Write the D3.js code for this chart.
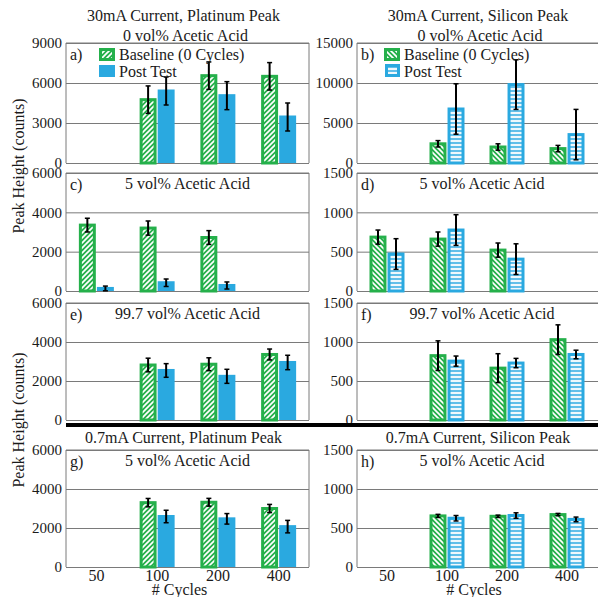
<!DOCTYPE html>
<html>
<head>
<meta charset="utf-8">
<script src="https://cdn.jsdelivr.net/npm/d3@7"></script>
<style>
  body { margin: 0; background: #fff; }
  svg, svg text { font-family: 'Liberation Serif', 'DejaVu Serif', 'Times New Roman', Times, serif !important; fill: #1a1a1a; }
</style>
</head>
<body>
<div id="chart"></div>
<script>
const cycles = ["50", "100", "200", "400"];

// a) 30mA, platinum peak, 0 vol%
const aBase = [null, 4750, 6550, 6500];
const aBaseErr = [null, 1030, 1030, 1030];
const aPost = [null, 5400, 5050, 3450];
const aPostErr = [null, 1050, 1050, 1050];
// b) 30mA, silicon peak, 0 vol%
const bBase = [null, 2400, 2000, 1800];
const bBaseErr = [null, 400, 400, 400];
const bPost = [null, 6750, 9800, 3550];
const bPostErr = [null, 3150, 3100, 3150];
// c) 30mA, platinum, 5 vol%
const cBase = [3350, 3200, 2720, null];
const cBaseErr = [350, 360, 350, null];
const cPost = [130, 420, 280, null];
const cPostErr = [120, 190, 180, null];
// d) 30mA, silicon, 5 vol%
const dBase = [685, 660, 520, null];
const dBaseErr = [90, 90, 90, null];
const dPost = [470, 775, 405, null];
const dPostErr = [195, 195, 195, null];
// e) 30mA, platinum, 99.7 vol%
const eBase = [null, 2820, 2860, 3360];
const eBaseErr = [null, 350, 330, 280];
const ePost = [null, 2540, 2240, 2950];
const ePostErr = [null, 350, 360, 370];
// f) 30mA, silicon, 99.7 vol%
const fBase = [null, 825, 665, 1030];
const fBaseErr = [null, 190, 185, 190];
const fPost = [null, 755, 730, 840];
const fPostErr = [null, 65, 60, 55];
// g) 0.7mA, platinum, 5 vol%
const gBase = [null, 3300, 3320, 3000];
const gBaseErr = [null, 215, 200, 210];
const gPost = [null, 2590, 2470, 2070];
const gPostErr = [null, 320, 270, 320];
// h) 0.7mA, silicon, 5 vol%
const hBase = [null, 655, 650, 672];
const hBaseErr = [null, 20, 15, 15];
const hPost = [null, 625, 660, 610];
const hPostErr = [null, 35, 35, 30];

const green = "#25b04b", blue = "#2aa9e0", grid = "#7a7a7a";
const serif = "'Liberation Serif', 'DejaVu Serif', 'Times New Roman', serif";

const cols = [[66, 309], [357, 597]];
const rows = [[43, 163], [173, 291], [303, 420], [450, 567]];

const panels = [
  {tag: "a)", col: 0, row: 0, max: 9000, step: 3000, base: aBase, baseErr: aBaseErr, post: aPost, postErr: aPostErr, sub: "0 vol% Acetic Acid", title: "30mA Current, Platinum Peak"},
  {tag: "b)", col: 1, row: 0, max: 15000, step: 5000, base: bBase, baseErr: bBaseErr, post: bPost, postErr: bPostErr, sub: "0 vol% Acetic Acid", title: "30mA Current, Silicon Peak"},
  {tag: "c)", col: 0, row: 1, max: 6000, step: 2000, base: cBase, baseErr: cBaseErr, post: cPost, postErr: cPostErr, sub: "5 vol% Acetic Acid"},
  {tag: "d)", col: 1, row: 1, max: 1500, step: 500, base: dBase, baseErr: dBaseErr, post: dPost, postErr: dPostErr, sub: "5 vol% Acetic Acid"},
  {tag: "e)", col: 0, row: 2, max: 6000, step: 2000, base: eBase, baseErr: eBaseErr, post: ePost, postErr: ePostErr, sub: "99.7 vol% Acetic Acid"},
  {tag: "f)", col: 1, row: 2, max: 1500, step: 500, base: fBase, baseErr: fBaseErr, post: fPost, postErr: fPostErr, sub: "99.7 vol% Acetic Acid"},
  {tag: "g)", col: 0, row: 3, max: 6000, step: 2000, base: gBase, baseErr: gBaseErr, post: gPost, postErr: gPostErr, sub: "5 vol% Acetic Acid", title: "0.7mA Current, Platinum Peak"},
  {tag: "h)", col: 1, row: 3, max: 1500, step: 500, base: hBase, baseErr: hBaseErr, post: hPost, postErr: hPostErr, sub: "5 vol% Acetic Acid", title: "0.7mA Current, Silicon Peak"}
];

let svg = d3.select("#chart")
  .append("svg")
    .attr("width", 598)
    .attr("height", 597)
    .attr("font-family", serif);

// hatch patterns
let defs = svg.append("defs");
function hatch(id, d, w, h, bg, sw) {
  let p = defs.append("pattern")
    .attr("id", id)
    .attr("patternUnits", "userSpaceOnUse")
    .attr("width", w)
    .attr("height", h);
  p.append("rect").attr("width", w).attr("height", h).attr("fill", bg);
  p.append("path").attr("d", d).attr("stroke", "#fff").attr("stroke-width", sw);
}
hatch("fwd", "M-1,1 l2,-2 M0,5 l5,-5 M4,6 l2,-2", 5, 5, green, 1.7);
hatch("back", "M-1,4 l2,2 M0,0 l5,5 M4,-1 l2,2", 5, 5, green, 1.7);
hatch("hor", "M0,1 h4", 4, 4, "#62bfe9", 1.8);

function label(sel, x, y, txt, anchor) {
  return sel.append("text")
    .attr("x", x).attr("y", y).attr("dy", "0.35em")
    .attr("text-anchor", anchor || "start")
    .attr("font-family", serif)
    .style("font-size", "16px")
    .text(txt);
}

panels.forEach(function(p) {
  let left = cols[p.col][0], right = cols[p.col][1];
  let top = rows[p.row][0], bottom = rows[p.row][1];
  let g = svg.append("g");

  let y = d3.scaleLinear().domain([0, p.max]).range([bottom, top]);
  let x = d3.scaleBand().domain(cycles).range([left, right]);
  let xs = d3.scaleBand().domain(["base", "post"]).range([-17.5, 17.5]).paddingInner(0.06);
  let bw = xs.bandwidth();

  // gridlines + tick labels
  let yAxis = d3.axisLeft(y)
    .tickValues(d3.range(0, p.max + 1, p.step))
    .tickFormat(d3.format("d"))
    .tickSize(-(right - left + (p.col ? 10 : 0)))
    .tickPadding(4);
  let ax = g.append("g")
    .attr("transform", "translate(" + left + ",0)")
    .call(yAxis)
    .attr("font-family", serif);
  ax.select(".domain").remove();
  ax.selectAll("line").attr("stroke", grid);
  ax.selectAll("text")
    .style("font-size", "15px")
    .attr("fill", "#1a1a1a");

  // frame
  g.append("path")
    .attr("d", "M" + (right + (p.col ? 10 : 0)) + "," + top + "H" + left + "V" + bottom + (p.col ? "" : "M" + right + "," + top + "V" + bottom))
    .attr("fill", "none")
    .attr("stroke", grid);

  let idx = d3.range(cycles.length);

  // baseline bars
  g.selectAll(".base")
    .data(idx.filter(i => p.base[i] != null))
    .enter().append("rect")
      .attr("x", i => x(cycles[i]) + x.bandwidth() / 2 + xs("base") + 1.5)
      .attr("y", i => y(p.base[i]))
      .attr("width", bw - 3)
      .attr("height", i => y(0) - y(p.base[i]))
      .attr("fill", p.col ? "url(#back)" : "url(#fwd)")
      .attr("stroke", green)
      .attr("stroke-width", 3);

  // post test bars
  g.selectAll(".post")
    .data(idx.filter(i => p.post[i] != null))
    .enter().append("rect")
      .attr("x", i => x(cycles[i]) + x.bandwidth() / 2 + xs("post") + (p.col ? 1.5 : 0))
      .attr("y", i => y(p.post[i]) - (p.col ? 0 : 1.5))
      .attr("width", p.col ? bw - 3 : bw)
      .attr("height", i => y(0) - y(p.post[i]) + (p.col ? 0 : 1.5))
      .attr("fill", p.col ? "url(#hor)" : blue)
      .attr("stroke", p.col ? blue : "none")
      .attr("stroke-width", 3);

  // error bars
  let errs = [];
  idx.forEach(function(i) {
    if (p.base[i] != null) errs.push({c: cycles[i], s: "base", v: p.base[i], e: p.baseErr[i]});
    if (p.post[i] != null) errs.push({c: cycles[i], s: "post", v: p.post[i], e: p.postErr[i]});
  });
  let eg = g.selectAll(".err").data(errs).enter().append("g")
    .attr("transform", d => "translate(" + (x(d.c) + x.bandwidth() / 2 + xs(d.s) + bw / 2) + ",0)");
  eg.append("line")
    .attr("y1", d => y(d.v + d.e))
    .attr("y2", d => y(Math.max(0, d.v - d.e)))
    .attr("stroke", "#000")
    .attr("stroke-width", 2);
  eg.append("line")
    .attr("x1", -2.5).attr("x2", 2.5)
    .attr("y1", d => y(d.v + d.e)).attr("y2", d => y(d.v + d.e))
    .attr("stroke", "#000").attr("stroke-width", 1.5);
  eg.append("line")
    .attr("x1", -2.5).attr("x2", 2.5)
    .attr("y1", d => y(Math.max(0, d.v - d.e))).attr("y2", d => y(Math.max(0, d.v - d.e)))
    .attr("stroke", "#000").attr("stroke-width", 1.5);

  // panel tag
  label(g, left + 4, top + 11, p.tag);

  let mid = (left + right) / 2 + (p.col ? 5 : 0);
  if (p.row === 0) {
    label(g, mid - 4, 15, p.title, "middle");
    label(g, mid - 2, 35, p.sub, "middle");
  } else {
    label(g, mid, top + 10, p.sub, "middle");
  }
  if (p.row === 3) {
    label(g, mid - 4, 437, p.title, "middle");
    cycles.forEach(function(c) {
      label(g, x(c) + x.bandwidth() / 2, bottom + 8, c, "middle");
    });
    label(g, mid - 8, 589, "# Cycles", "middle");
  }

  // legend
  if (p.row === 0) {
    let lx = left + (p.col ? 27 : 33);
    g.append("rect").attr("x", lx + 1.5).attr("y", 49.5).attr("width", 13).attr("height", 10)
      .attr("fill", p.col ? "url(#back)" : "url(#fwd)").attr("stroke", green).attr("stroke-width", 3);
    g.append("rect").attr("x", lx + (p.col ? 2.5 : 0)).attr("y", p.col ? 65.5 : 65)
      .attr("width", p.col ? 12 : 16).attr("height", p.col ? 10 : 12)
      .attr("fill", p.col ? "url(#hor)" : blue).attr("stroke", p.col ? blue : "none").attr("stroke-width", 3);
    label(g, lx + 20, 54, "Baseline (0 Cycles)");
    label(g, lx + 20, 71, "Post Test");
  }
});

// thick separator between the current groups
svg.append("line")
  .attr("x1", 66).attr("x2", 598)
  .attr("y1", 425).attr("y2", 425)
  .attr("stroke", "#000")
  .attr("stroke-width", 4);

// y axis titles
[166, 420].forEach(function(cy) {
  svg.append("text")
    .attr("transform", "translate(18," + cy + ") rotate(-90)")
    .attr("dy", "0.35em")
    .attr("text-anchor", "middle")
    .attr("font-family", serif)
    .style("font-size", "16px")
    .text("Peak Height (counts)");
});
</script>
</body>
</html>
